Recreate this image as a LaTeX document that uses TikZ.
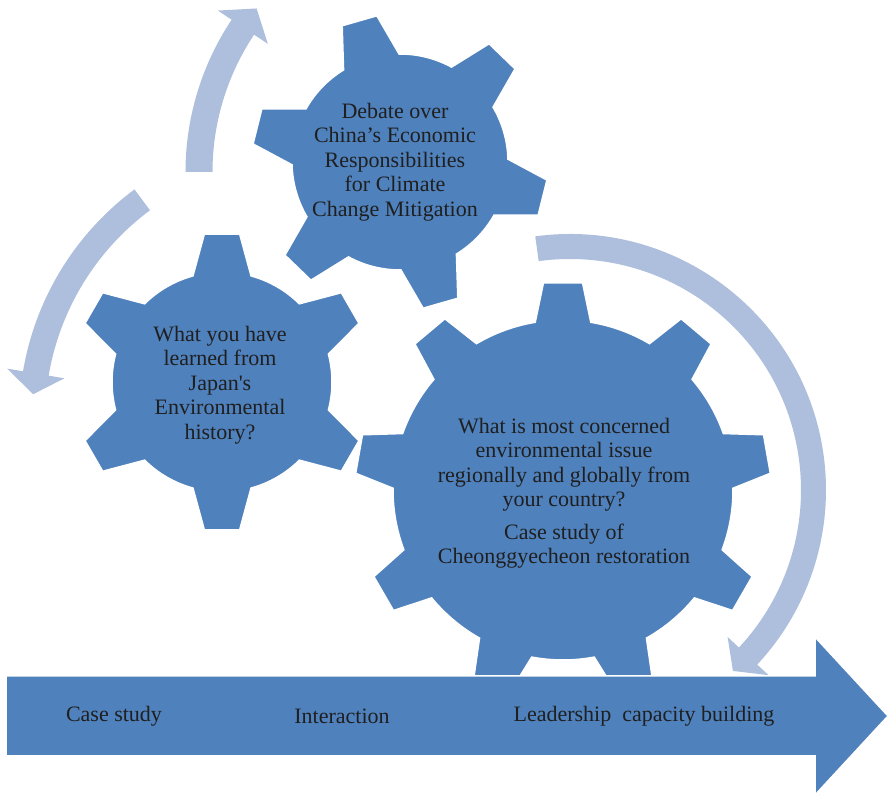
\documentclass[tikz,border=0pt]{standalone}
\usepackage{fontspec}
\setmainfont{Liberation Serif}
\definecolor{gearblue}{HTML}{4F81BD}
\definecolor{arcblue}{HTML}{AEBFDD}
\newcommand{\circarrow}[8]{%
  \fill[bandarrow, shift={(#1,#2)}]
    (#5:{#3+#4}) arc[start angle=#5, end angle=#6, radius={#3+#4}]
    -- (#6:{#3+#8}) -- (#7:#3) -- (#6:{#3-#8}) -- (#6:{#3-#4})
    arc[start angle=#6, end angle=#5, radius={#3-#4}] -- cycle;}
% center x, center y, R, Ro, n, phase, base half angle, tip half angle
\newcommand{\gearshape}[8]{%
  \filldraw[gear, shift={(#1,#2)}] ({#6-#7}:#3)
    \foreach \k [evaluate=\k as \a using {#6+\k*360/#5},
                 evaluate=\k as \b using {#6+(\k+1)*360/#5}] in {0,...,\numexpr#5-1\relax} {
      -- ({\a-#8}:#4) -- ({\a+#8}:#4) -- ({\a+#7}:#3)
      arc[start angle={\a+#7}, end angle={\b-#7}, radius=#3]
    } -- cycle;}
\begin{document}
\begin{tikzpicture}[x=1pt,y=1pt,
  gear/.style={fill=gearblue, draw=white, line width=1.5pt},
  bandarrow/.style={fill=arcblue},
  lbl/.style={font=\fontsize{22}{24.5}\selectfont, text=black!88, align=center, inner sep=0pt}]
\useasboundingbox (0,0) rectangle (887,793);
% circular arrows
\circarrow{460}{621}{261}{13.5}{180}{146.3}{141.2}{30}
\circarrow{305}{374}{273}{13}{126.6}{170.4}{174.8}{29}
\circarrow{570}{303}{243.5}{12.5}{97.8}{-43}{-48}{28}
% gears
\gearshape{400}{631}{108}{148}{6}{106}{15.5}{7}
\gearshape{222}{411}{110}{149}{6}{90}{15.3}{6.8}
\gearshape{563}{303}{170}{208}{9}{90}{9.4}{5.4}
% timeline arrow
\filldraw[gear] (6,37) -- (815,37) -- (815,-2) -- (888,77) -- (815,156) -- (815,117) -- (6,117) -- cycle;
% texts
\node[lbl] (t1) at (395,631) {Debate over\\China’s Economic\\Responsibilities\\for Climate\\Change Mitigation};
\node[lbl] (t2) at (220,408) {What you have\\learned from\\Japan\textquotesingle s\\Environmental\\history?};
\node[lbl] (t3) at (564,300) {What is most concerned\\environmental issue\\regionally and globally from\\your country?\\[8pt]Case study of\\Cheonggyecheon restoration};
\node[lbl] (b1) at (114,77) {Case study};
\node[lbl] (b2) at (342,77) {Interaction};
\node[lbl] (b3) at (644,77) {Leadership~ capacity building};
\end{tikzpicture}
\end{document}
